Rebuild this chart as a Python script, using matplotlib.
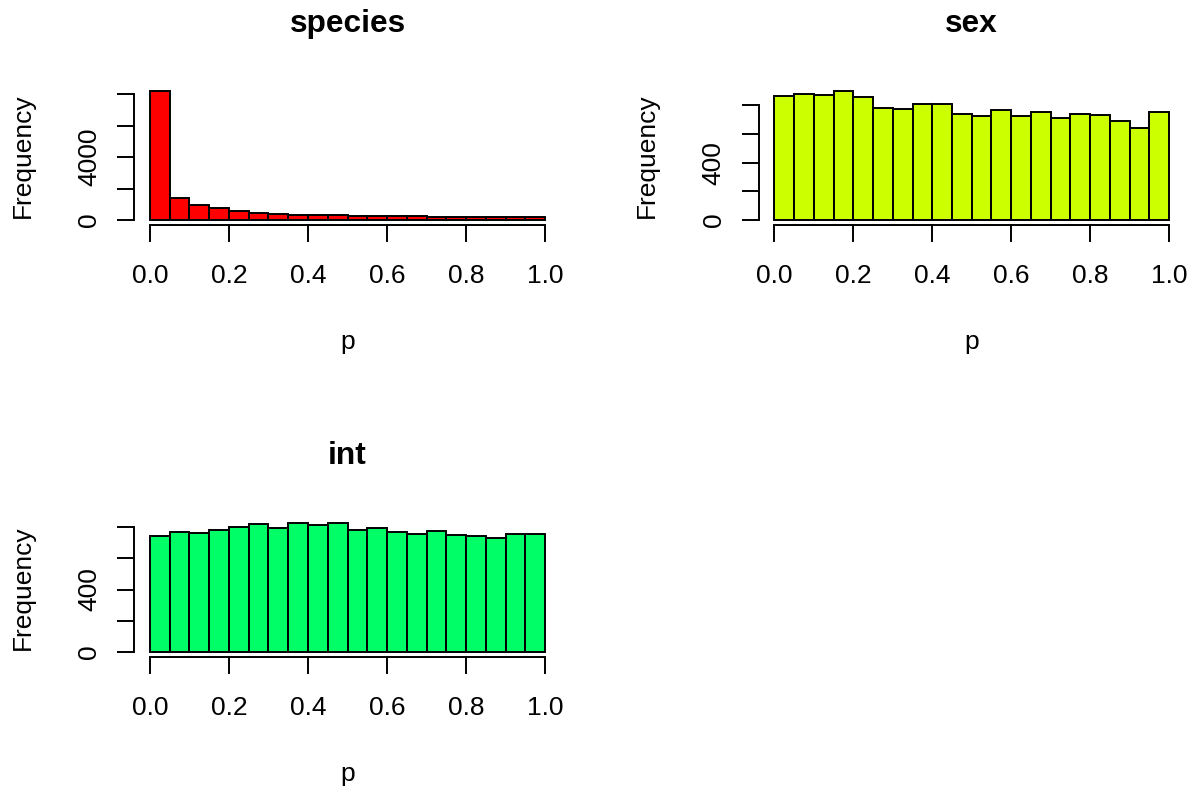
import matplotlib
matplotlib.use("Agg")
import matplotlib.pyplot as plt
import numpy as np

plt.rcParams['font.family'] = ['Liberation Sans', 'DejaVu Sans']

# ---- data ----
bin_edges = [round(0.05 * i, 2) for i in range(21)]

species_counts = [8213, 1408, 939, 768, 576, 469, 384, 341, 320, 299,
                  277, 256, 256, 235, 213, 213, 213, 192, 192, 171]
sex_counts = [868, 879, 872, 900, 858, 781, 774, 809, 812, 739,
              725, 767, 728, 756, 714, 737, 735, 693, 639, 756]
int_counts = [742, 770, 764, 783, 804, 819, 798, 824, 811, 826,
              779, 794, 770, 755, 774, 748, 746, 729, 757, 759]

titles = ["species", "sex", "int"]
colors = ["#FF0000", "#CCFF00", "#00FF66"]
counts_list = [species_counts, sex_counts, int_counts]
yticks_list = [[0, 2000, 4000, 6000, 8000], [0, 200, 400, 600, 800], [0, 200, 400, 600, 800]]
ylabels_list = [["0", "", "4000", "", ""], ["0", "", "400", "", ""], ["0", "", "400", "", ""]]
xticks = [0.0, 0.2, 0.4, 0.6, 0.8, 1.0]
xticklabels = ["0.0", "0.2", "0.4", "0.6", "0.8", "1.0"]

W, H = 1194, 786
fig = plt.figure(figsize=(W / 100, H / 100), dpi=100)

# plot regions in pixels: (left, top, right, bottom)
regions = [(134, 86, 561, 225), (758.5, 86, 1185, 225), (134, 518, 561, 657)]

LW = 1.4
TICK_FS = 19
TITLE_FS = 22.8

for title, col, counts, yt, ylab, reg in zip(titles, colors, counts_list, yticks_list, ylabels_list, regions):
    l, t, r, b = reg
    ax = fig.add_axes([l / W, 1 - b / H, (r - l) / W, (b - t) / H])
    lefts = np.array(bin_edges[:-1])
    widths = np.diff(bin_edges)
    ax.bar(lefts, counts, width=widths, align='edge', color=col,
           edgecolor='black', linewidth=LW)
    ymax = max(counts)
    ax.set_xlim(-0.04, 1.04)
    ax.set_ylim(-0.04 * ymax, 1.04 * ymax)
    for s in ['top', 'right']:
        ax.spines[s].set_visible(False)
    ax.spines['left'].set_bounds(yt[0], yt[-1])
    ax.spines['bottom'].set_bounds(0, 1)
    ax.spines['left'].set_linewidth(LW)
    ax.spines['bottom'].set_linewidth(LW)
    ax.set_xticks(xticks)
    ax.set_xticklabels(xticklabels)
    ax.set_yticks(yt)
    ax.set_yticklabels(ylab, rotation=90, va='center')
    ax.tick_params(axis='both', direction='out', length=12.2, width=LW, labelsize=TICK_FS)
    ax.tick_params(axis='x', pad=16.0)
    ax.tick_params(axis='y', pad=11.5)
    ax.set_title(title, fontsize=TITLE_FS, fontweight='bold', pad=39)
    ax.set_xlabel("p", fontsize=TICK_FS, labelpad=30)
    ax.set_ylabel("Frequency", fontsize=TICK_FS, labelpad=30.5)

fig.savefig("out.png", dpi=100)
